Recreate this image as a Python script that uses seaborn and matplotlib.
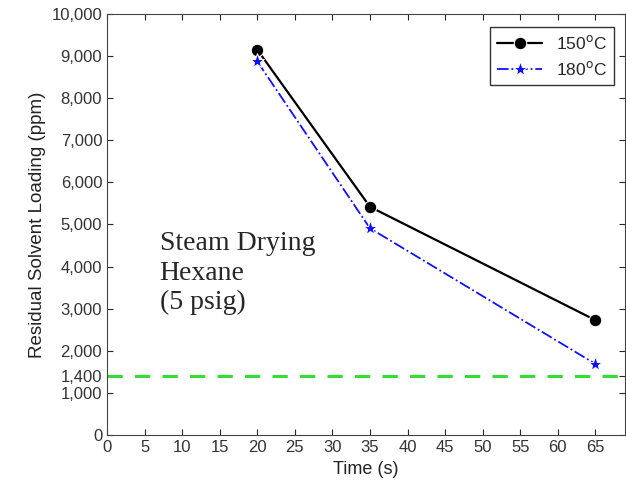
import pandas as pd
import numpy as np
import matplotlib
matplotlib.use("Agg")
import matplotlib.pyplot as plt
import seaborn as sns

# ---------------------------
# DATA
# ---------------------------
time_s = [20, 35, 65]
loading_150 = [9150, 5420, 2730]
loading_180 = [8870, 4910, 1690]
limit_ppm = 1400
series_labels = ["150$^{\\mathrm{o}}$C", "180$^{\\mathrm{o}}$C"]
y_ticks = [0, 1000, 1400, 2000, 3000, 4000, 5000, 6000, 7000, 8000, 9000, 10000]
x_ticks = list(range(0, 70, 5))

df = pd.DataFrame({
    "Time (s)": time_s * 2,
    "Loading": loading_150 + loading_180,
    "Series": [series_labels[0]] * 3 + [series_labels[1]] * 3,
})

# ---------------------------
# PLOT
# ---------------------------
sns.set_style("ticks")
plt.rcParams["font.family"] = ["Liberation Sans", "DejaVu Sans"]

fig = plt.figure(figsize=(6.26, 4.95), dpi=100)
ax = fig.add_axes([0.171, 0.121, 0.828, 0.851])

sns.lineplot(data=df[df["Series"] == series_labels[0]], x="Time (s)", y="Loading",
             color="black", marker="o", markersize=9, linewidth=1.6,
             label=series_labels[0], ax=ax)
sns.lineplot(data=df[df["Series"] == series_labels[1]], x="Time (s)", y="Loading",
             color="#1010ff", marker="*", markersize=11, linewidth=1.3,
             linestyle="-.", label=series_labels[1], ax=ax)

ax.axhline(limit_ppm, color="#33dd33", linestyle="--", linewidth=2.2, dashes=(5, 4))

ax.set_xlim(0, 69)
ax.set_ylim(0, 10000)
ax.set_xticks(x_ticks)
ax.set_yticks(y_ticks)
ax.set_yticklabels([f"{v:,}" for v in y_ticks])
ax.tick_params(direction="in", top=True, right=True, labelsize=12,
               labelcolor="#333333", length=4)
for s in ax.spines.values():
    s.set_color("#444444")

ax.set_xlabel("Time (s)", fontsize=13, color="#222222")
ax.set_ylabel("Residual Solvent Loading (ppm)", fontsize=13.5, color="#222222")

ax.text(7.0, 4850, "Steam Drying\nHexane\n(5 psig)", fontsize=20,
        family=["Liberation Serif", "DejaVu Serif"], linespacing=1.25,
        va="top", ha="left")

leg = ax.legend(loc="upper right", fontsize=12.5, frameon=True, fancybox=False,
                edgecolor="black", handlelength=2.6, borderpad=0.4,
                bbox_to_anchor=(0.995, 0.99))
leg.get_frame().set_linewidth(1.0)

plt.savefig("out.png", dpi=100)
